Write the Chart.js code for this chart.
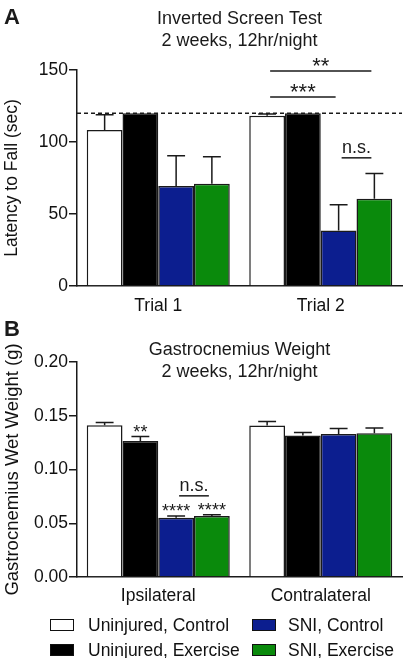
<!DOCTYPE html>
<html>
<head>
<meta charset="utf-8">
<script src="https://cdn.jsdelivr.net/npm/chart.js@4.4.1/dist/chart.umd.min.js"></script>
<style>
  html, body { margin: 0; padding: 0; background: #fff; }
  body { width: 408px; height: 658px; position: relative; overflow: hidden; font-family: 'Liberation Sans', Arial, sans-serif; }
  .panel { position: absolute; left: 0; width: 408px; }
  #panelA { top: 0; height: 322px; }
  #panelB { top: 300px; height: 315px; }
  .legend { position: absolute; left: 0; top: 0; width: 408px; font-size: 17.5px; color: #111; }
  .item { position: absolute; height: 20px; line-height: 20px; white-space: nowrap; }
  .swatch { position: absolute; left: 0; top: 4px; width: 22px; height: 10px; border: 1.5px solid #111; }
  .item span.lbl { position: absolute; white-space: nowrap; }
</style>
</head>
<body>
<div class="panel" id="panelA"><canvas id="chartA"></canvas></div>
<div class="panel" id="panelB"><canvas id="chartB"></canvas></div>
<div class="legend" id="legend"></div>
<script>
// ---- data ----
const groups = ['Uninjured, Control', 'Uninjured, Exercise', 'SNI, Control', 'SNI, Exercise'];
const groupColors = ['#ffffff', '#000000', '#0c1e8f', '#0a8a0c'];

// A: inverted screen test (latency, sec)
const trialLabels = ['Trial 1', 'Trial 2'];
const latUninjCtrl = [108.3, 118.3];
const latUninjEx = [120, 120];
const latSniCtrl = [69.5, 38.5];
const latSniEx = [71, 60.6];
const latErrUninjCtrl = [10.7, 1.1];
const latErrUninjEx = [0, 0];
const latErrSniCtrl = [21, 18];
const latErrSniEx = [18.7, 17.6];
const cutoffLatency = 120;
const latencyTicks = [0, 50, 100, 150];

// B: gastrocnemius wet weight (g)
const sideLabels = ['Ipsilateral', 'Contralateral'];
const wtUninjCtrl = [0.1412, 0.1409];
const wtUninjEx = [0.1266, 0.1316];
const wtSniCtrl = [0.0552, 0.1331];
const wtSniEx = [0.0568, 0.1337];
const wtErrUninjCtrl = [0.0025, 0.0037];
const wtErrUninjEx = [0.0040, 0.0028];
const wtErrSniCtrl = [0.0016, 0.0050];
const wtErrSniEx = [0.0012, 0.0048];
const weightTicks = [0, 0.05, 0.10, 0.15, 0.20];

// significance marks
const bracketsA = [
  { cat: 1, from: 0, to: 3, y: 149.3, text: '**' },
  { cat: 1, from: 0, to: 2, y: 131.3, text: '***' },
  { cat: 1, from: 2, to: 3, y: 89, text: 'n.s.' }
];
const bracketsB = [
  { cat: 0, from: 2, to: 3, y: 0.0755, text: 'n.s.' }
];
const starsB = [
  { cat: 0, ds: 1, text: '**' },
  { cat: 0, ds: 2, text: '****' },
  { cat: 0, ds: 3, text: '****' }
];

const FONT = "'Liberation Sans', Arial, sans-serif";
const INK = '#1a1a1a';

function makeDatasets(values, errors) {
  return values.map((v, i) => ({
    label: groups[i],
    data: v,
    err: errors[i],
    backgroundColor: groupColors[i],
    borderColor: INK,
    borderWidth: 1.5,
    borderSkipped: 'bottom',
    categoryPercentage: 0.88,
    barPercentage: 1.0
  }));
}

// error bars (upward only) + dashed cutoff + significance marks + titles
const extrasPlugin = {
  id: 'extras',
  afterDatasetsDraw(chart, args, opts) {
    const ctx = chart.ctx;
    const area = chart.chartArea;
    const yScale = chart.scales.y;
    ctx.save();
    ctx.strokeStyle = INK;
    ctx.lineWidth = 1.5;

    // error bars
    chart.data.datasets.forEach((ds, di) => {
      const meta = chart.getDatasetMeta(di);
      meta.data.forEach((bar, i) => {
        const e = ds.err[i];
        if (!e) return;
        const top = yScale.getPixelForValue(ds.data[i] + e);
        const half = bar.width / 4;
        ctx.beginPath();
        ctx.moveTo(bar.x, bar.y);
        ctx.lineTo(bar.x, top);
        ctx.moveTo(bar.x - half, top);
        ctx.lineTo(bar.x + half, top);
        ctx.stroke();
      });
    });

    // dashed cutoff line
    if (opts.cutoff !== undefined) {
      const y = yScale.getPixelForValue(opts.cutoff);
      ctx.setLineDash([4, 3]);
      ctx.beginPath();
      ctx.moveTo(area.left, y);
      ctx.lineTo(area.right, y);
      ctx.stroke();
      ctx.setLineDash([]);
    }

    ctx.fillStyle = INK;
    ctx.textAlign = 'center';
    ctx.textBaseline = 'alphabetic';

    // brackets
    (opts.brackets || []).forEach(b => {
      const x1 = chart.getDatasetMeta(b.from).data[b.cat].x;
      const x2 = chart.getDatasetMeta(b.to).data[b.cat].x;
      const y = yScale.getPixelForValue(b.y);
      ctx.beginPath();
      ctx.moveTo(x1 + 3, y);
      ctx.lineTo(x2 - 3, y);
      ctx.stroke();
      const isStars = b.text.indexOf('*') >= 0;
      ctx.font = (isStars ? opts.starSize : 18) + 'px ' + FONT;
      ctx.fillText(b.text, (x1 + x2) / 2, isStars ? y + 2 : y - 5);
    });

    // stars above single bars
    (opts.stars || []).forEach(s => {
      const ds = chart.data.datasets[s.ds];
      const bar = chart.getDatasetMeta(s.ds).data[s.cat];
      const y = yScale.getPixelForValue(ds.data[s.cat] + ds.err[s.cat]);
      ctx.font = opts.starSize + 'px ' + FONT;
      ctx.fillText(s.text, bar.x, y + 1);
    });

    // titles and panel letter
    ctx.textBaseline = 'middle';
    ctx.font = '18px ' + FONT;
    const cx = (area.left + area.right) / 2;
    opts.title.forEach((line, i) => {
      ctx.fillText(line, cx, area.top + opts.titleOffset + i * 22);
    });
    ctx.textAlign = 'left';
    ctx.font = 'bold 22px ' + FONT;
    ctx.fillText(opts.letter, 4, opts.letterY);
    ctx.restore();
  }
};

function baseOptions(cfg) {
  return {
    responsive: true,
    maintainAspectRatio: false,
    animation: false,
    layout: { padding: { top: cfg.padTop, right: 6, left: 0, bottom: 0 } },
    plugins: {
      legend: { display: false },
      tooltip: { enabled: false },
      extras: cfg.extras
    },
    scales: {
      x: {
        grid: { display: false },
        border: { display: true, color: INK, width: 1.5 },
        ticks: { color: '#111', font: { family: FONT, size: 17.5 }, padding: cfg.xPad },
        afterFit: s => { s.height = cfg.xHeight; }
      },
      y: {
        min: 0,
        max: cfg.ticks[cfg.ticks.length - 1],
        afterBuildTicks: s => { s.ticks = cfg.ticks.map(v => ({ value: v })); },
        grid: { drawOnChartArea: false, drawTicks: true, tickLength: 8, color: INK, lineWidth: 1.5 },
        border: { display: true, color: INK, width: 1.5 },
        ticks: { color: '#111', font: { family: FONT, size: 17.5 }, padding: 1, callback: cfg.tickFmt },
        title: { display: true, text: cfg.yTitle, color: '#111', font: { family: FONT, size: cfg.yTitleSize }, padding: { top: 2, bottom: 0 } },
        afterFit: s => { s.width = 77; }
      }
    }
  };
}

new Chart(document.getElementById('chartA'), {
  type: 'bar',
  data: {
    labels: trialLabels,
    datasets: makeDatasets([latUninjCtrl, latUninjEx, latSniCtrl, latSniEx],
      [latErrUninjCtrl, latErrUninjEx, latErrSniCtrl, latErrSniEx])
  },
  options: baseOptions({
    padTop: 70, xPad: 2, xHeight: 36, ticks: latencyTicks,
    tickFmt: v => String(v), yTitle: 'Latency to Fall (sec)', yTitleSize: 17.5,
    extras: {
      cutoff: cutoffLatency, brackets: bracketsA, starSize: 22,
      title: ['Inverted Screen Test', '2 weeks, 12hr/night'], titleOffset: -51,
      letter: 'A', letterY: 18
    }
  }),
  plugins: [extrasPlugin]
});

new Chart(document.getElementById('chartB'), {
  type: 'bar',
  data: {
    labels: sideLabels,
    datasets: makeDatasets([wtUninjCtrl, wtUninjEx, wtSniCtrl, wtSniEx],
      [wtErrUninjCtrl, wtErrUninjEx, wtErrSniCtrl, wtErrSniEx])
  },
  options: baseOptions({
    padTop: 62, xPad: 1, xHeight: 38, ticks: weightTicks,
    tickFmt: v => Number(v).toFixed(2), yTitle: 'Gastrocnemius Wet Weight (g)', yTitleSize: 18.5,
    extras: {
      brackets: bracketsB, stars: starsB, starSize: 18,
      title: ['Gastrocnemius Weight', '2 weeks, 12hr/night'], titleOffset: -12,
      letter: 'B', letterY: 30
    }
  }),
  plugins: [extrasPlugin]
});

// legend (two columns, as in the figure)
const legendOrder = [0, 2, 1, 3];
const legendEl = document.getElementById('legend');
legendOrder.forEach((gi, k) => {
  const col = k % 2, row = Math.floor(k / 2);
  const item = document.createElement('div');
  item.className = 'item';
  item.style.left = (col ? 252 : 50) + 'px';
  item.style.top = (615 + row * 25) + 'px';
  const sw = document.createElement('div');
  sw.className = 'swatch';
  sw.style.background = groupColors[gi];
  const lbl = document.createElement('span');
  lbl.className = 'lbl';
  lbl.style.left = (col ? 36 : 38) + 'px';
  lbl.textContent = groups[gi];
  item.appendChild(sw);
  item.appendChild(lbl);
  legendEl.appendChild(item);
});
</script>
</body>
</html>
